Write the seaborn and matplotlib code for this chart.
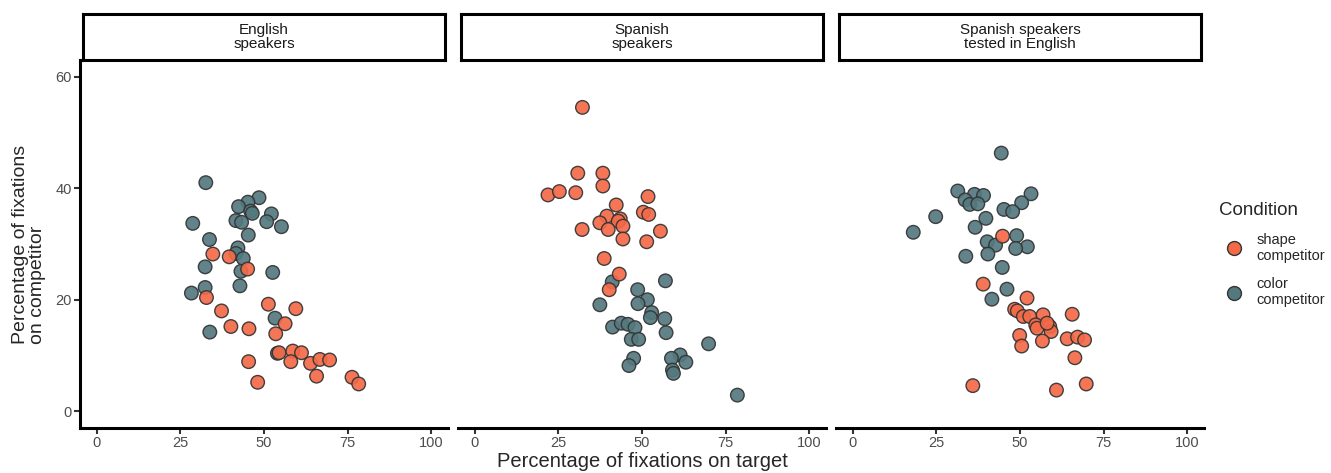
import seaborn as sns
import matplotlib.pyplot as plt
import pandas as pd
from matplotlib.lines import Line2D

# ---- data (target %, competitor %) ----
panels = ["English\nspeakers", "Spanish\nspeakers", "Spanish speakers\ntested in English"]
conditions = ["shape competitor", "color competitor"]
legend_labels = ["shape\ncompetitor", "color\ncompetitor"]

eng_shape_x = [34.7, 39.6, 45.1, 32.8, 51.3, 59.5, 37.3, 56.3, 40.1, 45.5, 53.5, 54.5,
               58.6, 61.2, 58.0, 45.4, 63.9, 66.7, 69.6, 65.7, 48.1, 76.3, 78.3]
eng_shape_y = [28.2, 27.7, 25.5, 20.4, 19.2, 18.4, 18.0, 15.7, 15.2, 14.8, 13.9, 10.5,
               10.8, 10.5, 8.9, 8.9, 8.6, 9.3, 9.2, 6.3, 5.2, 6.1, 4.9]
eng_color_x = [32.6, 48.5, 45.2, 42.4, 46.0, 46.5, 52.2, 41.6, 43.3, 50.8, 55.2, 28.7, 45.3,
               33.7, 42.2, 41.6, 43.8, 32.4, 43.1, 52.6, 42.8, 32.4, 28.3, 53.3, 33.8, 54.0]
eng_color_y = [41.0, 38.3, 37.5, 36.7, 35.9, 35.5, 35.4, 34.2, 33.9, 34.0, 33.1, 33.7, 31.6,
               30.8, 29.3, 28.3, 27.4, 25.9, 25.1, 24.9, 22.5, 22.2, 21.2, 16.7, 14.2, 10.4]

spa_shape_x = [32.2, 30.8, 38.3, 38.3, 21.9, 25.3, 30.2, 51.8, 42.3, 50.4, 52.0, 39.5,
               43.5, 42.9, 37.4, 44.3, 39.9, 32.1, 55.5, 44.3, 51.4, 38.7, 43.2, 40.2]
spa_shape_y = [54.5, 42.7, 42.7, 40.4, 38.8, 39.4, 39.2, 38.5, 37.0, 35.7, 35.3, 35.0,
               34.5, 34.1, 33.8, 33.2, 32.6, 32.6, 32.3, 30.9, 30.4, 27.4, 24.6, 21.8]
spa_color_x = [41.1, 57.0, 48.7, 51.6, 48.8, 37.4, 52.9, 52.5, 56.8, 41.2, 43.8, 45.8, 47.9,
               57.2, 46.8, 49.0, 69.9, 61.4, 58.8, 63.1, 47.5, 46.1, 59.1, 59.4, 78.5]
spa_color_y = [23.2, 23.4, 21.8, 20.0, 19.3, 19.1, 17.7, 16.8, 16.6, 15.1, 15.8, 15.6, 15.0,
               14.1, 12.9, 12.9, 12.1, 10.1, 9.5, 8.8, 9.5, 8.2, 7.4, 6.8, 2.9]

bil_shape_x = [44.8, 39.0, 52.1, 48.4, 49.2, 51.0, 52.9, 56.9, 65.6, 54.7, 55.1, 58.9,
               59.3, 58.1, 49.9, 64.1, 67.2, 69.3, 56.7, 50.5, 66.4, 35.9, 60.9, 69.8]
bil_shape_y = [31.4, 22.8, 20.3, 18.3, 18.0, 17.0, 17.0, 17.3, 17.4, 15.5, 14.9, 15.2,
               14.3, 15.8, 13.6, 13.0, 13.3, 12.8, 12.6, 11.7, 9.6, 4.6, 3.8, 4.9]
bil_color_x = [44.4, 31.4, 36.4, 39.1, 53.3, 33.6, 35.0, 37.4, 50.5, 45.2, 47.8, 24.8, 39.8,
               36.6, 18.1, 49.0, 40.2, 42.7, 52.2, 48.7, 40.4, 33.8, 44.7, 46.1, 41.6]
bil_color_y = [46.3, 39.5, 38.9, 38.7, 39.0, 37.9, 37.1, 37.2, 37.4, 36.2, 35.8, 34.9, 34.6,
               33.0, 32.1, 31.5, 30.4, 29.8, 29.5, 29.2, 28.2, 27.8, 25.8, 21.9, 20.1]

x_ticks = [0, 25, 50, 75, 100]
y_ticks = [0, 20, 40, 60]

series = [
    (panels[0], conditions[1], eng_color_x, eng_color_y),
    (panels[0], conditions[0], eng_shape_x, eng_shape_y),
    (panels[1], conditions[1], spa_color_x, spa_color_y),
    (panels[1], conditions[0], spa_shape_x, spa_shape_y),
    (panels[2], conditions[1], bil_color_x, bil_color_y),
    (panels[2], conditions[0], bil_shape_x, bil_shape_y),
]
frames = [pd.DataFrame({"group": g, "condition": c, "target": xs, "competitor": ys})
          for g, c, xs, ys in series]
df = pd.concat(frames, ignore_index=True)

palette = {"shape competitor": "#F46A47", "color competitor": "#53797F"}

sns.set_theme(style="white")
plt.rcParams["font.family"] = ["Liberation Sans", "DejaVu Sans"]

fig, axes = plt.subplots(1, 3, figsize=(13.31, 4.73), dpi=100, sharey=True)
fig.subplots_adjust(left=0.0601, right=0.9046, bottom=0.0951, top=0.8732, wspace=0.027)

for i, (ax, name) in enumerate(zip(axes, panels)):
    sub = df[df["group"] == name]
    sns.scatterplot(data=sub, x="target", y="competitor", hue="condition",
                    palette=palette, s=95, edgecolor="#333333", linewidth=1.0,
                    alpha=0.92, legend=False, ax=ax)
    ax.set_xlim(-5, 105)
    ax.set_ylim(-3, 63)
    ax.set_xticks(x_ticks)
    ax.set_yticks(y_ticks)
    ax.set_xlabel("")
    ax.set_ylabel("")
    for side in ["top", "right"]:
        ax.spines[side].set_visible(False)
    ax.spines["bottom"].set_linewidth(2.2)
    ax.spines["bottom"].set_color("black")
    if i == 0:
        ax.spines["left"].set_linewidth(2.2)
        ax.spines["left"].set_color("black")
        ax.tick_params(axis="y", left=True, length=4, width=1.5, color="#333333",
                       labelsize=10.5, labelcolor="#4D4D4D", pad=2)
    else:
        ax.spines["left"].set_visible(False)
        ax.tick_params(axis="y", left=False, labelleft=False)
    ax.tick_params(axis="x", bottom=True, length=4, width=1.5, color="#333333",
                   labelsize=10.5, labelcolor="#4D4D4D", pad=2)

    # strip header box
    pos = ax.get_position()
    strip = fig.add_axes([pos.x0 + 0.002, 0.8732, pos.width - 0.004, 0.097])
    strip.set_xticks([])
    strip.set_yticks([])
    for sp in strip.spines.values():
        sp.set_linewidth(2.2)
        sp.set_color("black")
    strip.text(0.5, 0.5, name, ha="center", va="center", fontsize=11,
               color="#1A1A1A", linespacing=1.0, transform=strip.transAxes)

fig.text((0.0601 + 0.9046) / 2, 0.004, "Percentage of fixations on target",
         ha="center", va="bottom", fontsize=14.5)
fig.text(0.009, (0.0951 + 0.8732) / 2, "Percentage of fixations\non competitor",
         ha="left", va="center", rotation=90, fontsize=14, linespacing=1.0)

handles = [Line2D([], [], marker="o", linestyle="", markersize=10,
                  markerfacecolor=palette[c], markeredgecolor="#333333",
                  markeredgewidth=1.0) for c in conditions]
leg = fig.legend(handles, legend_labels, title="Condition", loc="upper left",
                 bbox_to_anchor=(0.9115, 0.585), frameon=False, fontsize=10.5,
                 title_fontsize=13.5, labelspacing=0.95, handletextpad=0.55,
                 borderaxespad=0)
leg._legend_box.align = "left"

fig.savefig("out.png", dpi=100)
plt.close(fig)
